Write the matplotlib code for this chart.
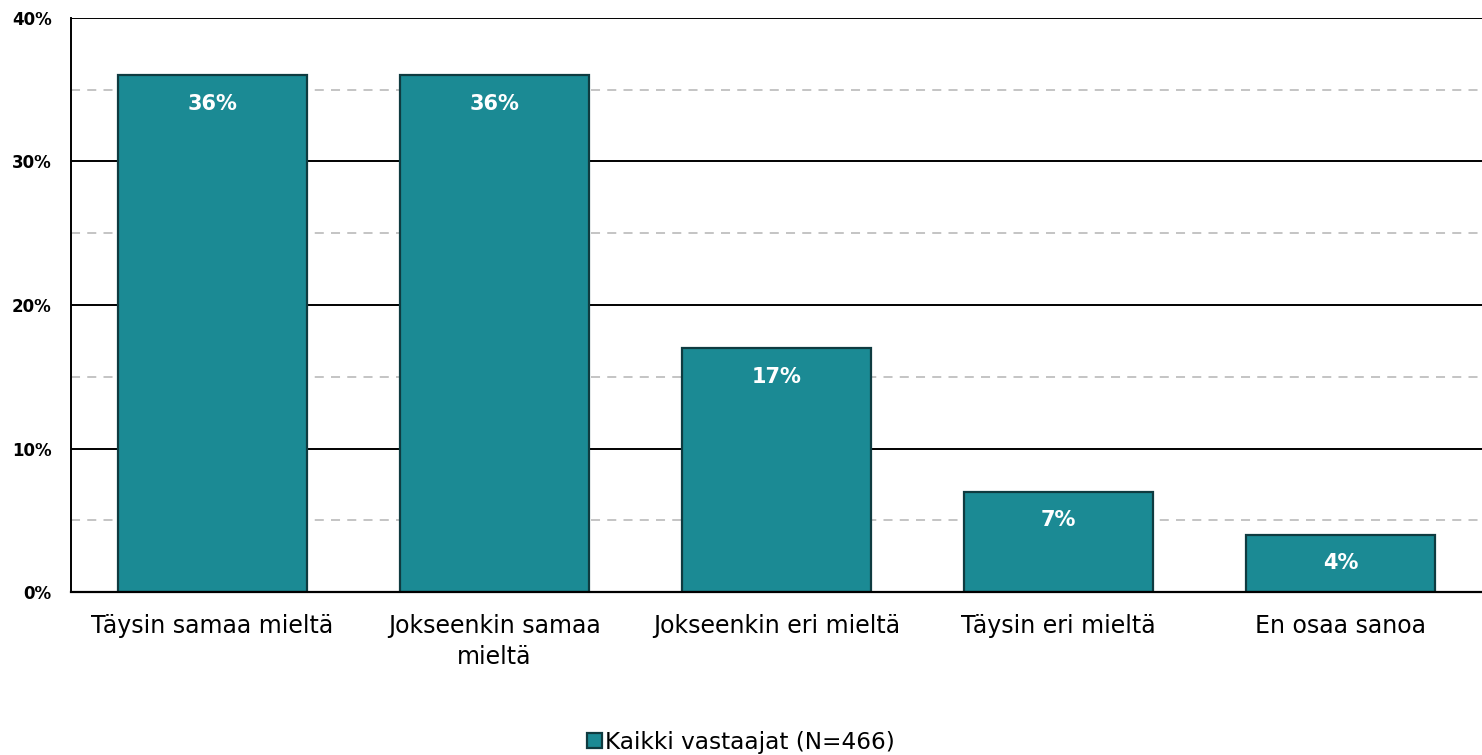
import matplotlib
matplotlib.use('Agg')
import matplotlib.pyplot as plt
from matplotlib.patches import Patch

categories = ['Täysin samaa mieltä', 'Jokseenkin samaa\nmieltä', 'Jokseenkin eri mieltä',
              'Täysin eri mieltä', 'En osaa sanoa']
values = [36, 36, 17, 7, 4]
series_name = 'Kaikki vastaajat (N=466)'
y_ticks = [0, 10, 20, 30, 40]
y_minor = [5, 15, 25, 35]

bar_color = '#1B8A94'
edge_color = '#0F3B40'


def main():
    plt.rcParams['font.family'] = ['DejaVu Sans']

    fig = plt.figure(figsize=(14.82, 7.55), dpi=100)
    ax = fig.add_axes([71 / 1482, 163 / 755, 1 - 71 / 1482, (592 - 18) / 755])

    # grid: solid at major ticks, dashed grey at halves
    for y in y_minor:
        ax.axhline(y, color='#BFBFBF', lw=1.3, ls=(0, (5, 4)), zorder=0)
    for y in y_ticks[1:]:
        ax.axhline(y, color='black', lw=1.4, zorder=0)

    x = range(len(categories))
    bars = ax.bar(x, values, width=0.67, color=bar_color, edgecolor=edge_color,
                  linewidth=1.6, zorder=2)

    for b, v in zip(bars, values):
        ax.annotate(f'{v}%', (b.get_x() + b.get_width() / 2, v), xytext=(0, -20.5),
                    textcoords='offset points', ha='center', va='center',
                    color='white', fontsize=15, fontweight='bold', zorder=3)

    ax.set_xlim(-0.5, len(categories) - 0.5)
    ax.set_ylim(0, 40)
    ax.set_yticks(y_ticks)
    ax.set_yticklabels([f'{t}%' for t in y_ticks], fontweight='bold', fontsize=12)
    ax.set_xticks(list(x))
    ax.set_xticklabels(categories, fontsize=17, linespacing=1.38)
    ax.tick_params(axis='both', length=0)
    ax.tick_params(axis='x', pad=16)
    ax.tick_params(axis='y', pad=14)

    ax.spines['top'].set_visible(False)
    ax.spines['right'].set_visible(False)
    ax.spines['left'].set_linewidth(1.4)
    ax.spines['bottom'].set_linewidth(1.6)

    handle = Patch(facecolor=bar_color, edgecolor=edge_color, linewidth=1.6)
    fig.legend([handle], [series_name], loc='lower center', bbox_to_anchor=(0.5, -0.026),
               frameon=False, fontsize=16.7, handlelength=0.65, handleheight=0.65,
               handletextpad=0.15)

    fig.savefig('out.png', dpi=100)


if __name__ == '__main__':
    main()
